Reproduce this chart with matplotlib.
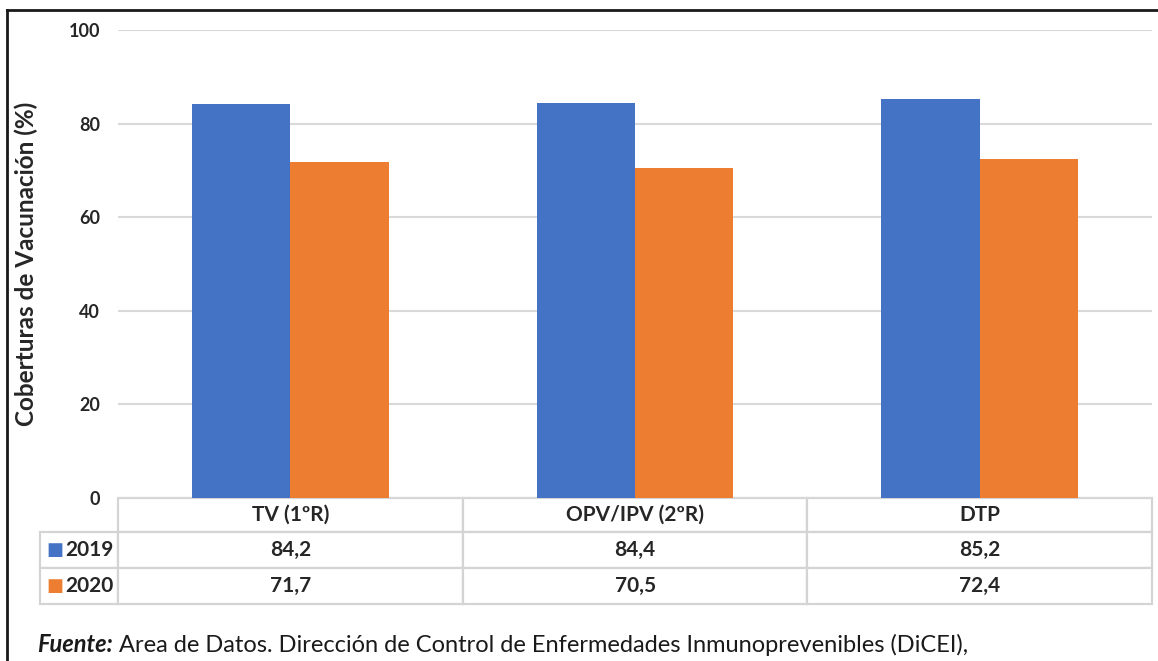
import numpy as np
import matplotlib.pyplot as plt
from matplotlib.lines import Line2D

# Data
categories = ['TV (1ºR)', 'OPV/IPV (2ºR)', 'DTP']
years = ['2019', '2020']
cov_2019 = [84.2, 84.4, 85.2]
cov_2020 = [71.7, 70.5, 72.4]
colors = ['#4472C4', '#ED7D31']

plt.rcParams['font.family'] = ['Lato', 'DejaVu Sans']

W, H = 1158, 661
fig = plt.figure(figsize=(W / 100, H / 100), dpi=100)

# axes placed in pixel terms of the reference
left, right, top, bottom = 118, 1152, 30, 498
ax = fig.add_axes([left / W, 1 - bottom / H, (right - left) / W, (bottom - top) / H])

x = np.arange(len(categories))
width = 0.285
series = [cov_2019, cov_2020]
for i, vals in enumerate(series):
    ax.bar(x + (i - 0.5) * width, vals, width, color=colors[i], zorder=3)

ax.set_xlim(-0.5, len(categories) - 0.5)
ax.set_ylim(0, 100)
ax.set_yticks(range(0, 101, 20))
ax.set_xticks([])
ax.grid(axis='y', color='#D9D9D9', linewidth=1.5, zorder=0)
for s in ax.spines.values():
    s.set_visible(False)
ax.tick_params(axis='y', length=0, pad=13, labelsize=13, labelcolor='#262626')
for lbl in ax.get_yticklabels():
    lbl.set_fontweight('bold')

ax.set_ylabel('Coberturas de Vacunación (%)', fontsize=17.5, fontweight='bold',
              color='#262626')
ax.yaxis.set_label_coords(-0.077, 0.5)

# data table below the bars
fmt = lambda v: f'{v:.1f}'.replace('.', ',')
cell_text = [[''] + categories]
for yr, vals in zip(years, series):
    cell_text.append([yr] + [fmt(v) for v in vals])

ax_h = bottom - top
ax_w = right - left
tbl_left = (40 - left) / ax_w
tbl_h = (604 - bottom) / ax_h
tbl = ax.table(cellText=cell_text, cellLoc='center',
               colWidths=[78, 344, 344, 344],
               bbox=[tbl_left, -tbl_h, 1 - tbl_left, tbl_h])
tbl.auto_set_font_size(False)
for (r, c), cell in tbl.get_celld().items():
    cell.set_edgecolor('#D4D4D4')
    cell.set_linewidth(1.6)
    cell.set_height({0: 34, 1: 36, 2: 36}[r])
    txt = cell.get_text()
    txt.set_fontsize(15)
    txt.set_fontweight('bold')
    txt.set_color('#262626')
    if r == 0 and c == 0:
        cell.visible_edges = ''
    if c == 0 and r > 0:
        txt.set_ha('right')
        cell.PAD = 0.06
        cell._loc = 'right'

# colored squares before the year labels
row_mid = [(532 + 568) / 2, (568 + 604) / 2]
for i, ym in enumerate(row_mid):
    ax.text((46 - left) / ax_w, (bottom - ym) / ax_h, '■', color=colors[i],
            transform=ax.transAxes, fontsize=13, ha='left', va='center',
            family='DejaVu Sans')

# frame around the figure
fig.add_artist(Line2D([7 / W, 7 / W], [0, 1 - 10 / H], transform=fig.transFigure,
                      color='#1a1a1a', linewidth=2))
fig.add_artist(Line2D([7 / W, 1], [1 - 10 / H, 1 - 10 / H], transform=fig.transFigure,
                      color='#1a1a1a', linewidth=2))

# source note
t1 = fig.text(37 / W, 1 - 645 / H, 'Fuente:', fontsize=17, fontweight='bold',
              fontstyle='italic', va='center', ha='left', color='#1a1a1a')
ax.annotate(' Area de Datos. Dirección de Control de Enfermedades Inmunoprevenibles (DiCEI),',
            xy=(1, 0), xycoords=t1, va='bottom', ha='left', fontsize=17,
            color='#1a1a1a')

fig.savefig('out.png', dpi=100)
